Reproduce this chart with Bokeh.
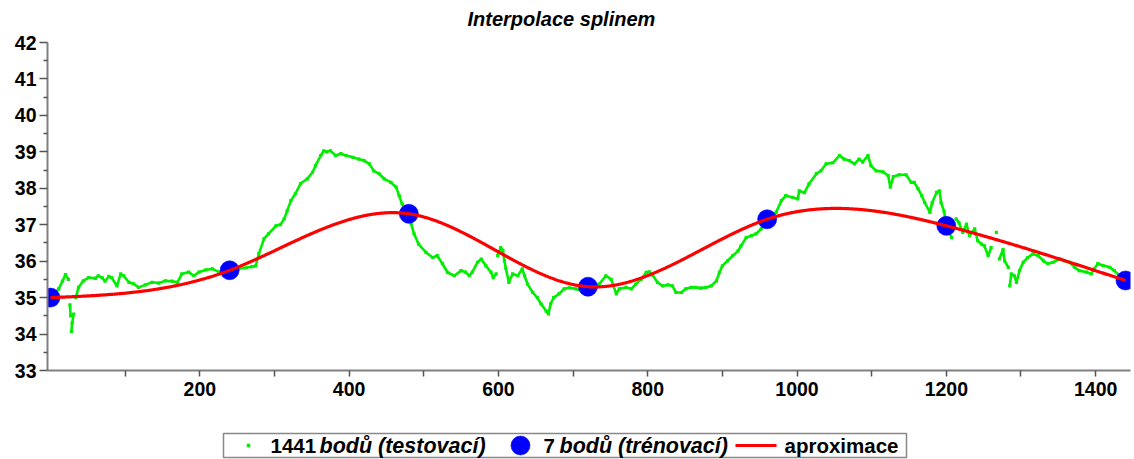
import numpy as np
from bokeh.plotting import figure
from bokeh.models import FixedTicker, Range1d
from bokeh.layouts import column
from bokeh.embed import file_html
from bokeh.resources import INLINE
from bokeh.core.properties import value

# ---------------- data ----------------
title_text = "Interpolace splinem"

train_x = [0, 240, 480, 720, 960, 1200, 1440]
train_y = [35.0, 35.75, 37.3, 35.3, 37.15, 36.97, 35.47]

test_x = [0, 5, 11, 16, 20, 24, 26, 27, 28, 29, 31, 34, 37.5, 44, 51, 60, 64, 69, 73, 78,
          82, 89, 94, 98, 105, 111, 118, 127, 136, 145, 154, 163, 170, 176, 185, 192, 199,
          208, 217, 226, 234, 240, 252, 262, 270, 275, 279, 286, 292, 302, 308, 313, 317,
          322, 328, 335, 344, 351, 355, 362, 366, 370, 375, 382, 389, 396, 405, 413, 420,
          427, 433, 440, 447, 456, 463, 467, 471, 476, 480, 483, 487, 493, 503, 512, 518,
          525, 532, 541, 550, 556, 561, 565, 572, 577, 583, 590, 593, 597, 599, 603, 606,
          608, 610, 614, 619, 626, 632, 635, 639, 646, 652, 657, 664, 667, 670, 674, 681,
          688, 695, 704, 711, 720, 728, 735, 744, 751, 758, 762, 771, 778, 784, 791, 798,
          802, 807, 813, 820, 827, 833, 838, 845, 851, 858, 864, 871, 878, 885, 892, 896,
          900, 907, 914, 921, 925, 932, 939, 945, 952, 960, 966, 972, 979, 985, 994, 1001,
          1003, 1010, 1016, 1026, 1032, 1039, 1048, 1057, 1063, 1070, 1077, 1083, 1088,
          1095, 1099, 1106, 1115, 1122, 1125, 1129, 1137, 1146, 1153, 1157, 1162, 1167,
          1171, 1178, 1181, 1187, 1191, 1193, 1197, 1200, 1207, 1213, 1217, 1222, 1227,
          1231, 1238, 1242, 1247, 1251, 1256, 1260, 1267, 1271, 1276, 1278, 1283, 1285,
          1287, 1291, 1294, 1298, 1303, 1309, 1316, 1323, 1330, 1336, 1343, 1352, 1358,
          1365, 1372, 1378, 1388, 1394, 1398, 1403, 1410, 1419, 1425, 1432, 1440]
test_y = [35.0, 35.1, 35.24, 35.45, 35.63, 35.5, 34.8, 34.5, 34.07, 34.3, 34.55, 35.0, 35.28,
          35.46, 35.55, 35.53, 35.6, 35.55, 35.45, 35.58, 35.55, 35.32, 35.65, 35.6, 35.42,
          35.38, 35.28, 35.35, 35.42, 35.4, 35.46, 35.45, 35.42, 35.65, 35.7, 35.6, 35.7,
          35.76, 35.79, 35.7, 35.72, 35.75, 35.79, 35.82, 35.85, 35.87, 36.2, 36.61, 36.75,
          36.97, 37.0, 37.16, 37.38, 37.66, 37.85, 38.13, 38.26, 38.44, 38.62, 38.9, 39.03,
          39.0, 39.03, 38.9, 38.95, 38.9, 38.85, 38.8, 38.76, 38.67, 38.48, 38.4, 38.26,
          38.16, 38.03, 37.8, 37.57, 37.4, 37.3, 37.03, 36.75, 36.47, 36.24, 36.1, 36.15,
          35.93, 35.69, 35.6, 35.74, 35.7, 35.6, 35.7, 35.97, 36.06, 35.88, 35.7, 35.55,
          35.65, 36.15, 36.37, 36.3, 36.01, 35.8, 35.42, 35.65, 35.6, 35.79, 35.6, 35.37,
          35.14, 35.0, 34.83, 34.63, 34.55, 34.83, 35.0, 35.1, 35.24, 35.27, 35.24, 35.19,
          35.3, 35.3, 35.37, 35.6, 35.5, 35.1, 35.24, 35.28, 35.24, 35.37, 35.5, 35.69,
          35.71, 35.6, 35.42, 35.32, 35.35, 35.32, 35.14, 35.14, 35.24, 35.28, 35.28, 35.26,
          35.28, 35.32, 35.46, 35.69, 35.87, 36.01, 36.15, 36.28, 36.42, 36.65, 36.7, 36.75,
          36.89, 37.15, 37.2, 37.34, 37.66, 37.8, 37.75, 37.71, 37.93, 37.88, 38.12, 38.4,
          38.48, 38.67, 38.7, 38.9, 38.8, 38.76, 38.67, 38.8, 38.72, 38.9, 38.62, 38.48,
          38.45, 38.35, 38.03, 38.32, 38.37, 38.37, 38.16, 38.16, 37.99, 37.8, 37.61, 37.34,
          37.6, 37.89, 37.93, 37.6, 37.37, 36.97, 36.65, 37.16, 37.05, 36.79, 37.02, 36.7,
          36.89, 36.56, 36.47, 36.42, 36.15, 36.37, 36.79, 36.06, 36.32, 36.01, 35.83, 35.32,
          35.65, 35.6, 35.42, 35.74, 35.97, 36.1, 36.2, 36.15, 36.01, 35.93, 35.97, 36.06,
          36.01, 35.97, 35.83, 35.74, 35.7, 35.65, 35.79, 35.93, 35.88, 35.83, 35.74, 35.6,
          35.47]

x_ticks = [200, 400, 600, 800, 1000, 1200, 1400]
x_minor_ticks = [100, 300, 500, 700, 900, 1100, 1300]
y_ticks = [33, 34, 35, 36, 37, 38, 39, 40, 41, 42]
y_minor_ticks = [33.5, 34.5, 35.5, 36.5, 37.5, 38.5, 39.5, 40.5, 41.5]

legend_labels = ["1441", "bodů (testovací)", "7", "bodů (trénovací)", "aproximace"]


# natural cubic spline through the training points (the red "aproximace" curve)
def natural_spline(xk, yk, xs):
    xk = np.asarray(xk, float)
    yk = np.asarray(yk, float)
    n = len(xk)
    h = np.diff(xk)
    A = np.zeros((n, n))
    b = np.zeros(n)
    A[0, 0] = 1.0
    A[-1, -1] = 1.0
    for i in range(1, n - 1):
        A[i, i - 1] = h[i - 1]
        A[i, i] = 2 * (h[i - 1] + h[i])
        A[i, i + 1] = h[i]
        b[i] = 6 * ((yk[i + 1] - yk[i]) / h[i] - (yk[i] - yk[i - 1]) / h[i - 1])
    M = np.linalg.solve(A, b)
    xs = np.asarray(xs, float)
    idx = np.clip(np.searchsorted(xk, xs) - 1, 0, n - 2)
    x0, x1 = xk[idx], xk[idx + 1]
    hh = x1 - x0
    t0 = x1 - xs
    t1 = xs - x0
    return (M[idx] * t0 ** 3 / (6 * hh) + M[idx + 1] * t1 ** 3 / (6 * hh)
            + (yk[idx] / hh - M[idx] * hh / 6) * t0
            + (yk[idx + 1] / hh - M[idx + 1] * hh / 6) * t1)


spline_x = np.arange(0, 1441)
spline_y = natural_spline(train_x, train_y, spline_x)

# break the green trace where it jumps, so steep parts show as separate dots
gx = np.asarray(test_x, float)
gy = np.asarray(test_y, float)
lx, ly = [gx[0]], [gy[0]]
for i in range(1, len(gx)):
    if abs(gy[i] - gy[i - 1]) > 0.42:
        lx.append(np.nan)
        ly.append(np.nan)
    lx.append(gx[i])
    ly.append(gy[i])

FONT = "Liberation Sans"
AXIS_COLOR = "#808080"
GREEN = "#00ee00"


def strip(height):
    # helper strip whose frame is aligned (by the column layout) with the main
    # frame, page x 47..1130, so its x range is set to page pixels
    f = figure(width=1134, height=height, x_range=Range1d(47, 1130), y_range=Range1d(0, height),
               output_backend="svg", toolbar_location=None,
               x_axis_type=None, y_axis_type=None, min_border=0)
    f.outline_line_color = None
    f.xgrid.visible = False
    f.ygrid.visible = False
    return f


# ---------------- title strip ----------------
tt = strip(30)
tt.text([467], [12], text=[title_text], text_font=value(FONT), text_font_style="bold italic",
        text_font_size="20px", text_baseline="middle", text_align="left", text_color="black")

# ---------------- main figure ----------------
p = figure(width=1134, height=395,
           x_range=Range1d(-4.02, 1446.7), y_range=Range1d(33, 42),
           output_backend="svg", toolbar_location=None,
           min_border_left=47, min_border_right=4, min_border_top=12, min_border_bottom=55)
p.outline_line_color = None
p.xgrid.visible = False
p.ygrid.visible = False
p.background_fill_color = "white"
p.border_fill_color = "white"

for ax, ticks, minor in ((p.xaxis[0], x_ticks, x_minor_ticks), (p.yaxis[0], y_ticks, y_minor_ticks)):
    ax.ticker = FixedTicker(ticks=ticks, minor_ticks=minor)
    ax.axis_line_color = AXIS_COLOR
    ax.axis_line_width = 2
    ax.major_tick_line_color = "#555555"
    ax.minor_tick_line_color = "#555555"
    ax.major_tick_line_width = 1.5
    ax.minor_tick_line_width = 1.5
    ax.major_tick_in = 0
    ax.minor_tick_in = 0
    ax.major_label_text_font = FONT
    ax.major_label_text_font_style = "bold"
    ax.major_label_text_font_size = "19.5px"
    ax.major_label_text_color = "black"

p.xaxis[0].major_tick_out = 6
p.xaxis[0].minor_tick_out = 6
p.xaxis[0].major_label_standoff = 5
p.yaxis[0].major_tick_out = 8
p.yaxis[0].minor_tick_out = 4
p.yaxis[0].major_label_standoff = 3

p.line(lx, ly, line_color=GREEN, line_width=2.6)
p.scatter(test_x, test_y, size=3.2, marker="square", fill_color=GREEN, line_color=None)
p.scatter(train_x, train_y, size=19, marker="circle", fill_color="#0000ff", line_color="#0000ff",
          line_alpha=0.6, line_width=1)
p.line(spline_x, spline_y, line_color="#ff0000", line_width=3.2)

# ---------------- legend strip ----------------
lg = strip(34)
lg.quad(left=[223], right=[906], bottom=[2], top=[26], fill_color="white",
        line_color="#888888", line_width=1.5)
lg.scatter([248], [14], size=3.5, marker="square", fill_color=GREEN, line_color=None)
lg.scatter([520], [14], size=19, marker="circle", fill_color="#0000ff", line_color="#0000ff",
           line_alpha=0.6)
lg.line([735, 776], [14, 14], line_color="#ff0000", line_width=3)

txt_x = [270, 319, 543, 559, 784]
txt_style = ["bold", "bold italic", "bold", "bold italic", "bold"]
txt_size = ["20.5px", "21.5px", "20.5px", "21.5px", "20.5px"]
for tx, lab, st, sz in zip(txt_x, legend_labels, txt_style, txt_size):
    lg.text([tx], [14], text=[lab], text_font=value(FONT), text_font_style=st,
            text_font_size=sz, text_baseline="middle", text_align="left", text_color="black")

layout = column(tt, p, lg, spacing=0)
open("out.html", "w").write(file_html(layout, INLINE))
